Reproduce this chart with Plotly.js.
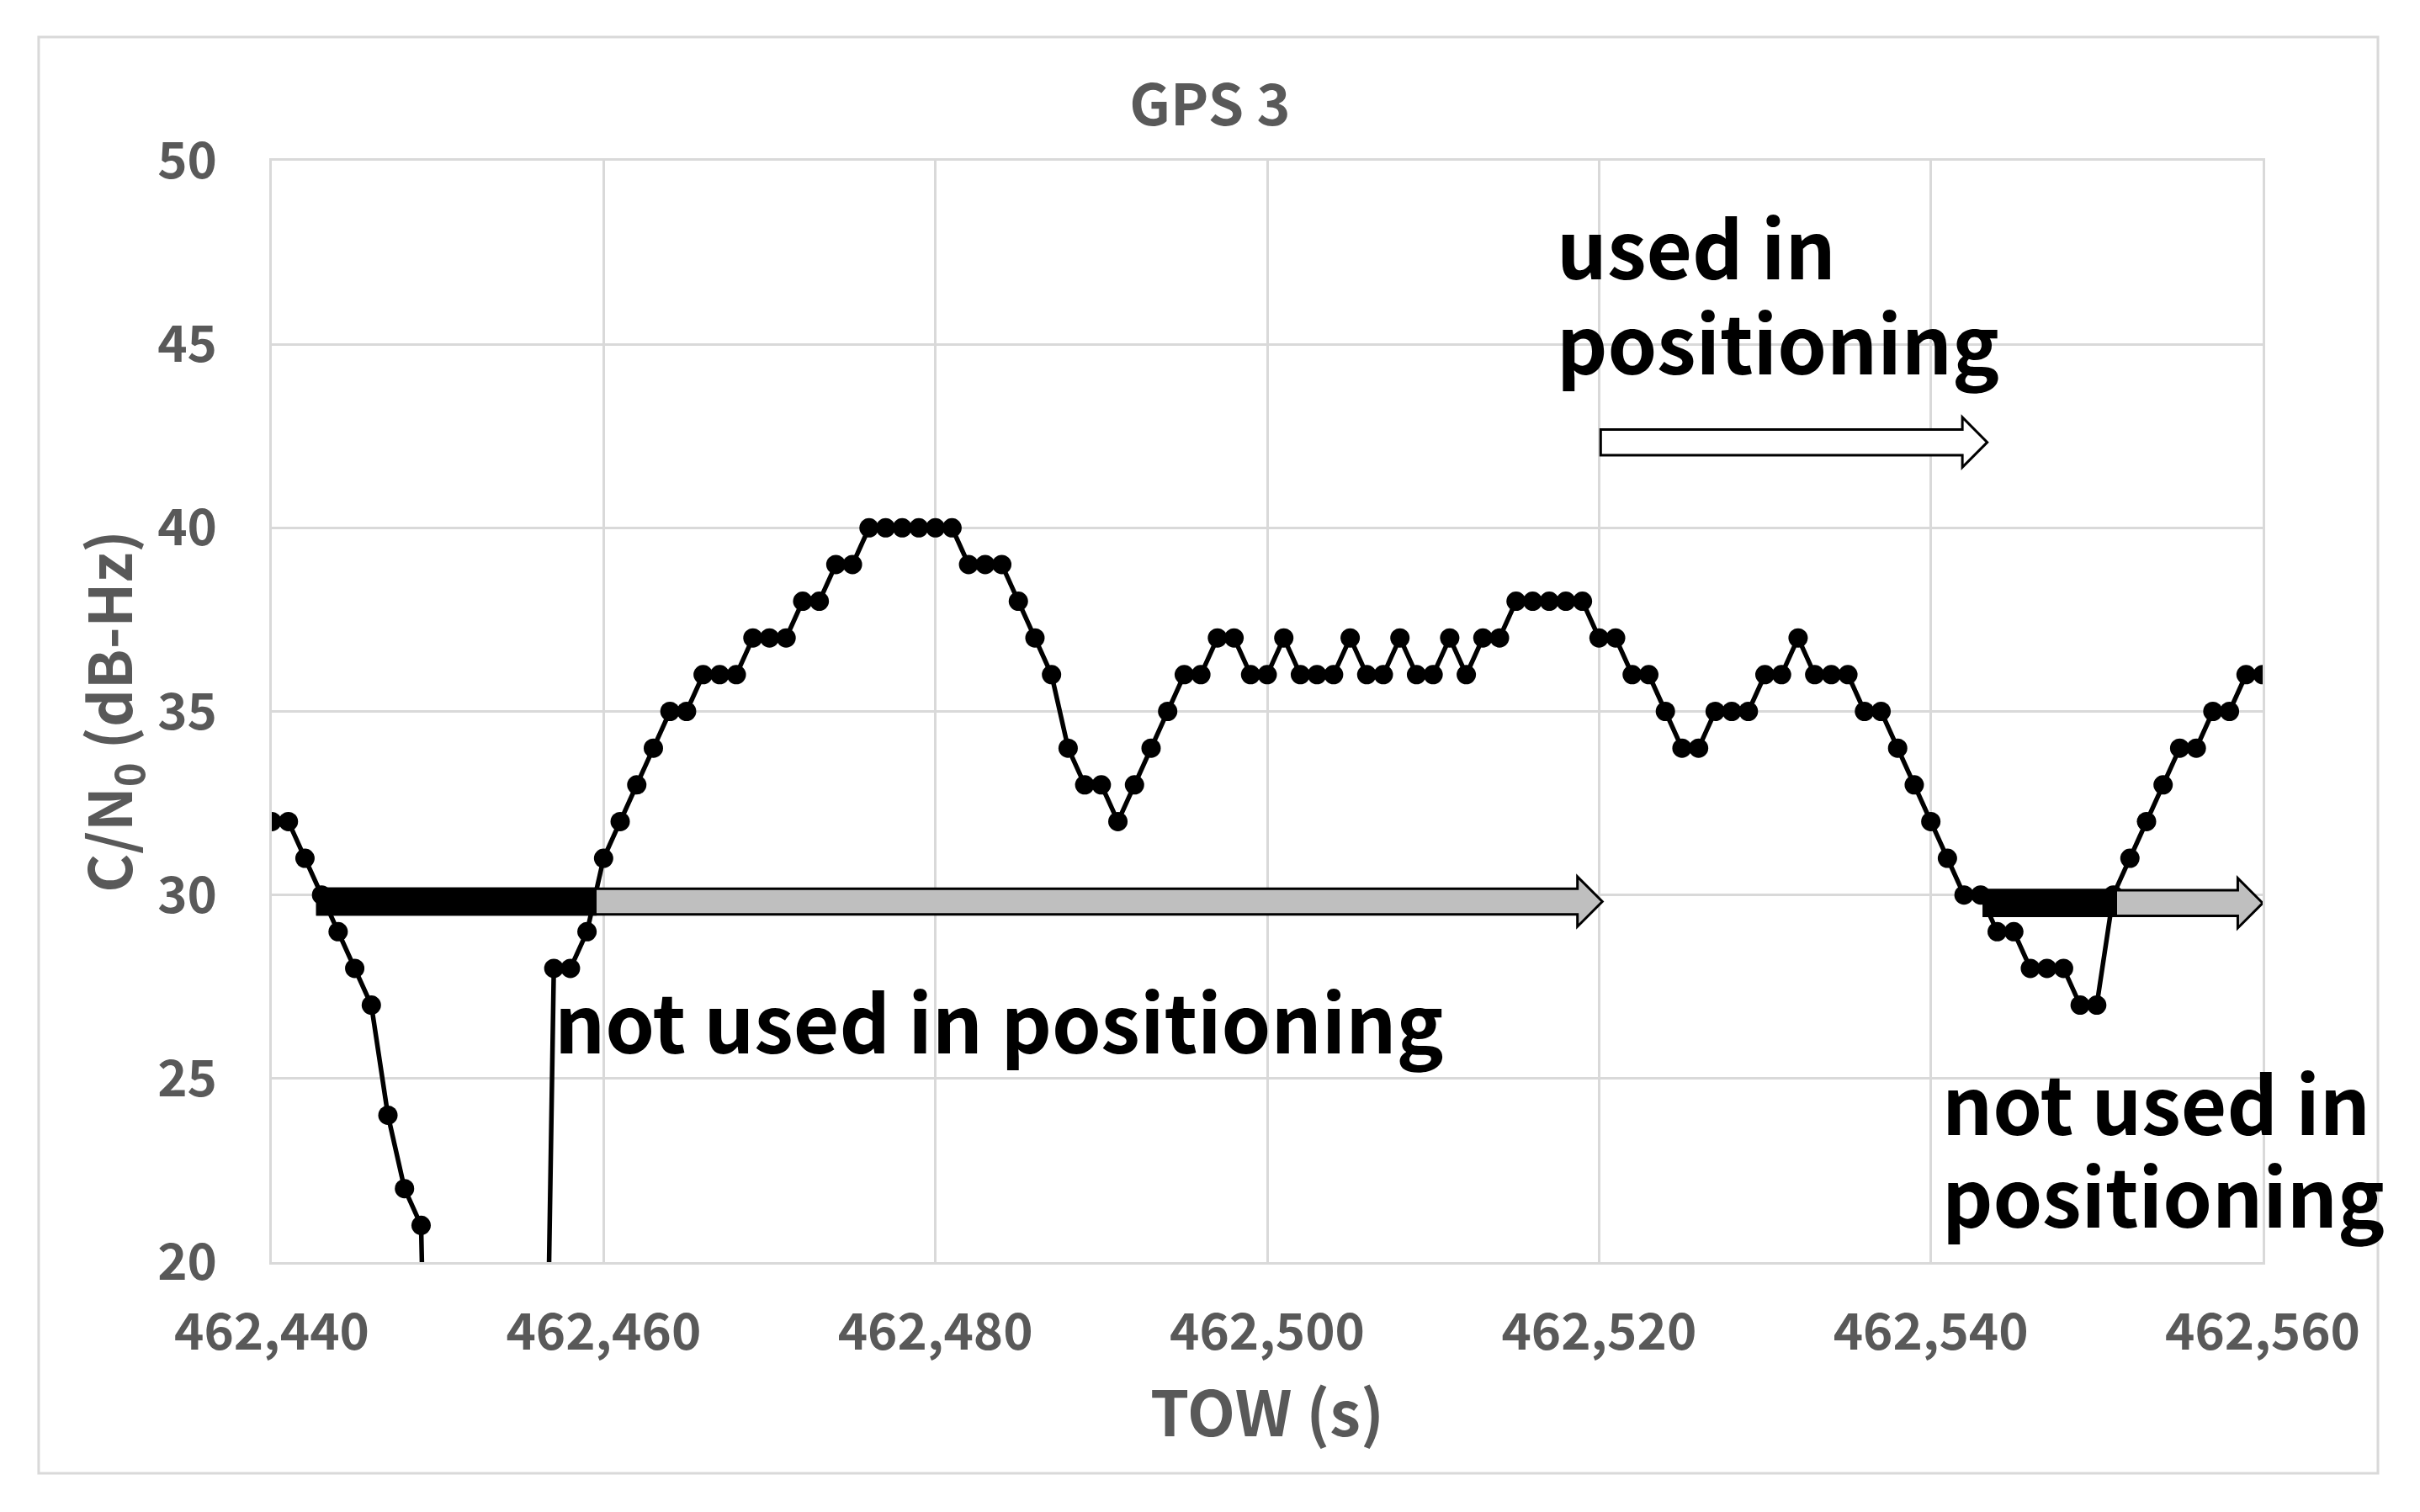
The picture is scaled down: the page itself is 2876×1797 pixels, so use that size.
<!DOCTYPE html>
<html>
<head>
<meta charset="utf-8">
<script src="https://cdn.plot.ly/plotly-3.0.1.min.js"></script>
<style>
  html, body { margin: 0; padding: 0; background: #fff; }
  #chart { width: 2876px; height: 1797px; }
</style>
</head>
<body>
<div id="chart"></div>
<script>
// TOW (s), one sample per second
const tow = [
  462440, 462441, 462442, 462443, 462444, 462445, 462446, 462447, 462448, 462449,
  462450, 462451, 462452, 462453, 462454, 462455, 462456, 462457, 462458, 462459,
  462460, 462461, 462462, 462463, 462464, 462465, 462466, 462467, 462468, 462469,
  462470, 462471, 462472, 462473, 462474, 462475, 462476, 462477, 462478, 462479,
  462480, 462481, 462482, 462483, 462484, 462485, 462486, 462487, 462488, 462489,
  462490, 462491, 462492, 462493, 462494, 462495, 462496, 462497, 462498, 462499,
  462500, 462501, 462502, 462503, 462504, 462505, 462506, 462507, 462508, 462509,
  462510, 462511, 462512, 462513, 462514, 462515, 462516, 462517, 462518, 462519,
  462520, 462521, 462522, 462523, 462524, 462525, 462526, 462527, 462528, 462529,
  462530, 462531, 462532, 462533, 462534, 462535, 462536, 462537, 462538, 462539,
  462540, 462541, 462542, 462543, 462544, 462545, 462546, 462547, 462548, 462549,
  462550, 462551, 462552, 462553, 462554, 462555, 462556, 462557, 462558, 462559,
  462560
];

// C/N0 (dB-Hz) of GPS 3 (0 = lost, below the axis)
const cn0 = [
  32, 32, 31, 30, 29, 28, 27, 24, 22, 21,
  0, 0, 0, 0, 0, 0, 0, 28, 28, 29,
  31, 32, 33, 34, 35, 35, 36, 36, 36, 37,
  37, 37, 38, 38, 39, 39, 40, 40, 40, 40,
  40, 40, 39, 39, 39, 38, 37, 36, 34, 33,
  33, 32, 33, 34, 35, 36, 36, 37, 37, 36,
  36, 37, 36, 36, 36, 37, 36, 36, 37, 36,
  36, 37, 36, 37, 37, 38, 38, 38, 38, 38,
  37, 37, 36, 36, 35, 34, 34, 35, 35, 35,
  36, 36, 37, 36, 36, 36, 35, 35, 34, 33,
  32, 31, 30, 30, 29, 29, 28, 28, 28, 27,
  27, 30, 31, 32, 33, 34, 34, 35, 35, 36,
  36
];

const fontFam = '"Noto Sans CJK JP", "Noto Sans", sans-serif';
const grey = '#595959';
const gridGrey = '#d9d9d9';

// block arrow drawn as a path in data units
function arrow(x0, x1, yc, fill) {
  const hh = 0.35, headH = 0.68, headL = 1.5;
  const xb = x1 - headL;
  return {
    type: 'path', xref: 'x', yref: 'y', layer: 'above',
    path: `M${x0},${yc - hh} L${xb},${yc - hh} L${xb},${yc - headH} L${x1},${yc} ` +
          `L${xb},${yc + headH} L${xb},${yc + hh} L${x0},${yc + hh} Z`,
    fillcolor: fill,
    line: { color: 'black', width: 3 }
  };
}

function blackPart(x0, x1, yc) {
  return {
    type: 'rect', xref: 'x', yref: 'y', layer: 'above',
    x0: x0, x1: x1, y0: yc - 0.35, y1: yc + 0.35,
    fillcolor: 'black', line: { color: 'black', width: 3 }
  };
}

function label(text, x, y) {
  return {
    text: text, x: x, y: y, xref: 'x', yref: 'y',
    xanchor: 'left', yanchor: 'middle', showarrow: false,
    borderpad: 0,
    font: { family: fontFam, size: 94, color: 'black', weight: 'bold' }
  };
}

Plotly.newPlot('chart', [{
  x: tow,
  y: cn0,
  type: 'scatter',
  mode: 'lines+markers',
  line: { color: 'black', width: 5.5 },
  marker: { color: 'black', size: 23 },
  cliponaxis: true,
  hoverinfo: 'x+y'
}], {
  width: 2876,
  height: 1797,
  margin: { l: 323, r: 187, t: 191, b: 297 },
  paper_bgcolor: 'white',
  plot_bgcolor: 'white',
  showlegend: false,
  title: {
    text: 'GPS 3',
    x: 0.5, xref: 'container', y: 1 - 125 / 1797, yref: 'container', yanchor: 'middle',
    font: { family: fontFam, size: 68, color: grey, weight: 'bold' }
  },
  xaxis: {
    range: [462440, 462560],
    tick0: 462440, dtick: 20,
    tickformat: ',',
    showgrid: true, gridcolor: gridGrey, gridwidth: 3,
    showline: true, mirror: true, linecolor: gridGrey, linewidth: 3,
    zeroline: false, ticks: '',
    ticklabelstandoff: 29,
    tickfont: { family: fontFam, size: 60, color: grey, weight: 'bold' },
    title: {
      text: 'TOW (s)', standoff: 35,
      font: { family: fontFam, size: 74, color: grey, weight: 'bold' }
    }
  },
  yaxis: {
    range: [20, 50],
    tick0: 20, dtick: 5,
    showgrid: true, gridcolor: gridGrey, gridwidth: 3,
    showline: true, mirror: true, linecolor: gridGrey, linewidth: 3,
    zeroline: false, ticks: '',
    ticklabelstandoff: 50,
    tickfont: { family: fontFam, size: 60, color: grey, weight: 'bold' },
    title: {
      text: 'C/N<sub>0</sub> (dB-Hz)', standoff: 7,
      font: { family: fontFam, size: 70, color: grey, weight: 'bold' }
    }
  },
  shapes: [
    // chart frame
    { type: 'rect', xref: 'paper', yref: 'paper',
      x0: -0.1171, x1: 1.0579, y0: -0.1918, y1: 1.1123,
      line: { color: gridGrey, width: 3 }, fillcolor: 'rgba(0,0,0,0)', layer: 'below' },
    arrow(462442.75, 462520.2, 29.82, '#bfbfbf'),
    blackPart(462442.75, 462459.5, 29.82),
    arrow(462543.2, 462560, 29.78, '#bfbfbf'),
    blackPart(462543.2, 462551.15, 29.78),
    arrow(462520.1, 462543.4, 42.33, 'white')
  ],
  annotations: [
    label('used in', 462517.4, 47.7),
    label('positioning', 462517.4, 45.12),
    label('not used in positioning', 462457.0, 26.63),
    label('not used in', 462540.6, 24.41),
    label('positioning', 462540.6, 21.89)
  ]
}, { displayModeBar: false, responsive: false });
</script>
</body>
</html>
